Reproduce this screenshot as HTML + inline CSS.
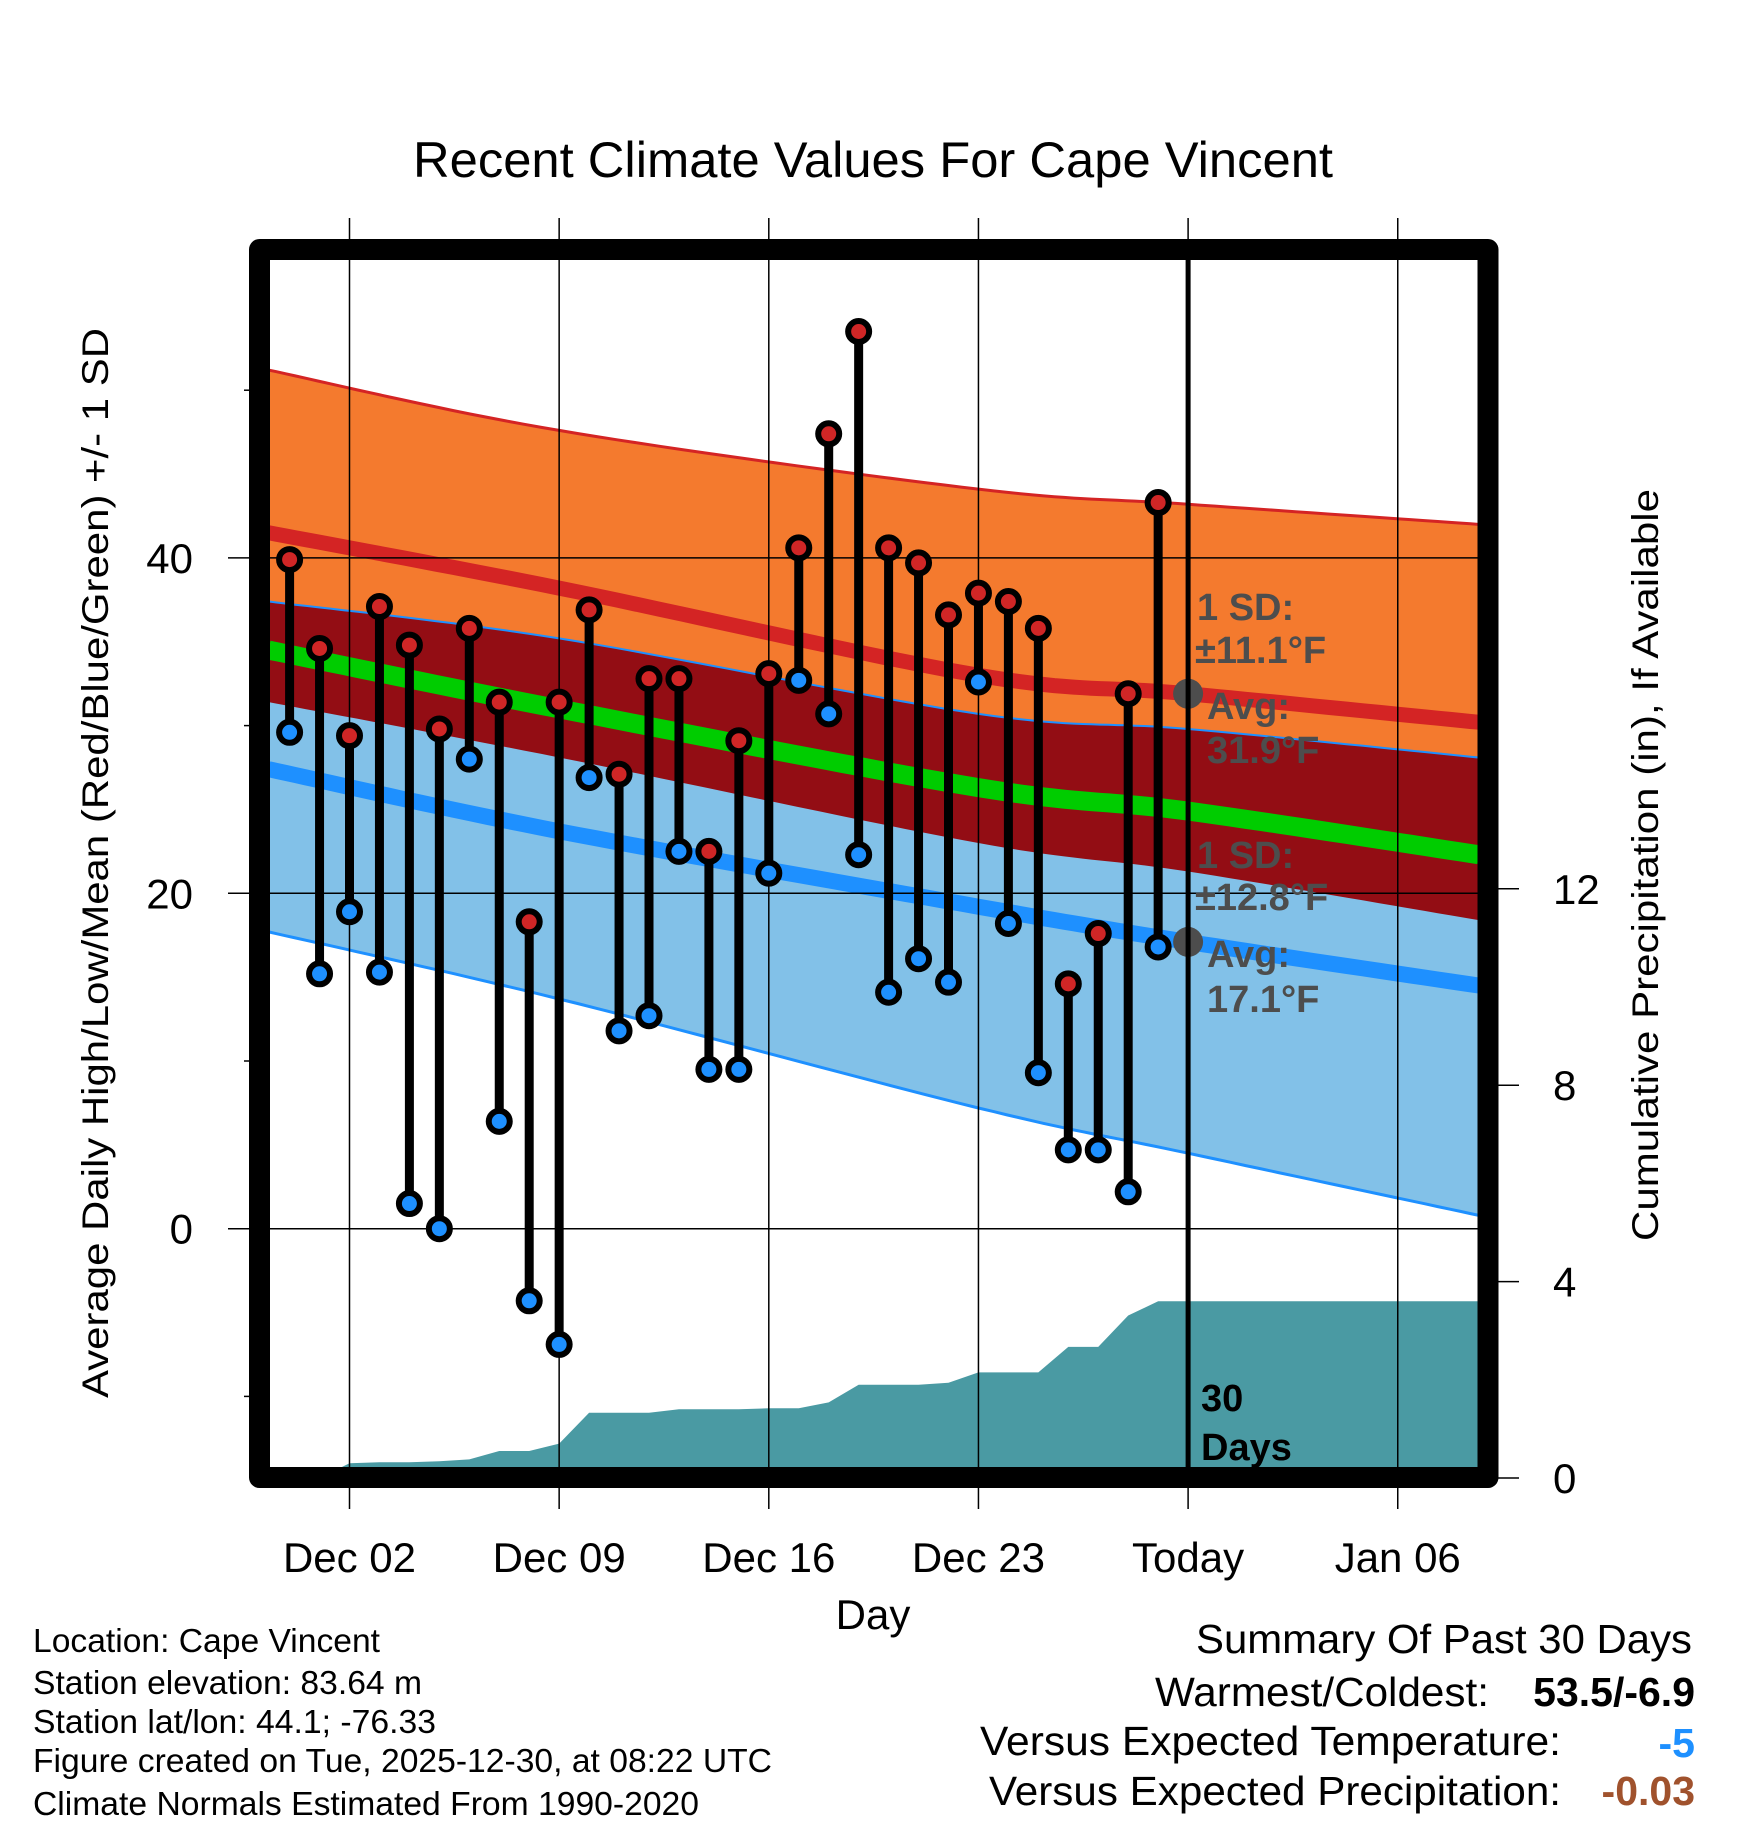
<!DOCTYPE html>
<html><head><meta charset="utf-8"><title>Recent Climate Values For Cape Vincent</title>
<style>html,body{margin:0;padding:0;background:#fff}svg{display:block}text{font-family:"Liberation Sans",Arial,sans-serif}</style>
</head><body>
<svg id="chart" xmlns="http://www.w3.org/2000/svg" width="1748" height="1828" viewBox="0 0 1748 1828">
<defs><clipPath id="plotclip"><rect x="270" y="260" width="1208" height="1208"/></clipPath></defs>
<text x="873" y="177" font-size="50" text-anchor="middle" textLength="920" lengthAdjust="spacingAndGlyphs">Recent Climate Values For Cape Vincent</text>
<g id="bands" clip-path="url(#plotclip)"></g>
<g id="precip" clip-path="url(#plotclip)"></g>
<g id="grid"></g>
<g id="marks"></g>
<g id="annot"></g>
<rect x="259.5" y="249.5" width="1228.5" height="1228" fill="none" stroke="#000" stroke-width="21" stroke-linejoin="round"/>
<g id="axes"></g>
<text transform="translate(108,863) rotate(-90)" font-size="37" text-anchor="middle" textLength="1070" lengthAdjust="spacingAndGlyphs">Average Daily High/Low/Mean (Red/Blue/Green) +/- 1 SD</text>
<text transform="translate(1658,865) rotate(-90)" font-size="37" text-anchor="middle" textLength="752" lengthAdjust="spacingAndGlyphs">Cumulative Precipitation (in), If Available</text>
<text x="873" y="1629" font-size="42" text-anchor="middle">Day</text>
<g font-size="33">
<text x="33" y="1652" textLength="347" lengthAdjust="spacingAndGlyphs">Location: Cape Vincent</text>
<text x="33" y="1694" textLength="389" lengthAdjust="spacingAndGlyphs">Station elevation: 83.64 m</text>
<text x="33" y="1733" textLength="403" lengthAdjust="spacingAndGlyphs">Station lat/lon: 44.1; -76.33</text>
<text x="33" y="1772" textLength="739" lengthAdjust="spacingAndGlyphs">Figure created on Tue, 2025-12-30, at 08:22 UTC</text>
<text x="33" y="1815" textLength="666" lengthAdjust="spacingAndGlyphs">Climate Normals Estimated From 1990-2020</text>
</g>
<g font-size="41">
<text x="1196" y="1653" textLength="496" lengthAdjust="spacingAndGlyphs">Summary Of Past 30 Days</text>
<text x="1155" y="1706" textLength="334" lengthAdjust="spacingAndGlyphs">Warmest/Coldest:</text>
<text x="1695" y="1706" text-anchor="end" font-weight="bold">53.5/-6.9</text>
<text x="980" y="1755" textLength="581" lengthAdjust="spacingAndGlyphs">Versus Expected Temperature:</text>
<text x="1695" y="1757" text-anchor="end" font-weight="bold" fill="#1e90ff">-5</text>
<text x="989" y="1805" textLength="572" lengthAdjust="spacingAndGlyphs">Versus Expected Precipitation:</text>
<text x="1695" y="1805" text-anchor="end" font-weight="bold" fill="#a0522d">-0.03</text>
</g>
</svg>
<script>
// ---- data ----
const days = [0,1,2,3,4,5,6,7,8,9,10,11,12,13,14,15,16,17,18,19,20,21,22,23,24,25,26,27,28,29]; // day of Dec (0 = Nov 30)
const highs = [39.9,34.6,29.4,37.1,34.8,29.8,35.8,31.4,18.3,31.4,36.9,27.1,32.8,32.8,22.5,29.1,33.1,40.6,47.4,53.5,40.6,39.7,36.6,37.9,37.4,35.8,14.6,17.6,31.9,43.3];
const lows = [29.6,15.2,18.9,15.3,1.5,0.0,28.0,6.4,-4.3,-6.9,26.9,11.8,12.7,22.5,9.5,9.5,21.2,32.7,30.7,22.3,14.1,16.1,14.7,32.6,18.2,9.3,4.7,4.7,2.2,16.8];
const precip = [0,0,0.3,0.32,0.32,0.34,0.38,0.55,0.55,0.7,1.33,1.33,1.33,1.4,1.4,1.4,1.42,1.42,1.54,1.9,1.9,1.9,1.94,2.15,2.15,2.15,2.67,2.67,3.31,3.6];
const normDays = [-0.7,9,23,30,39.7];
const highPlusSD = [51.2,47.6,44.1,43.2,42.0];
const highMean = [41.5,38.2,33.0,31.9,30.2];
const lowPlusSD = [37.4,35.2,30.7,29.8,28.1];
const meanTemp = [34.5,31.0,26.3,24.9,22.3];
const highMinusSD = [31.4,28.1,23.0,21.3,18.4];
const lowMean = [27.4,23.7,19.2,17.1,14.5];
const lowMinusSD = [17.7,13.7,7.2,4.5,0.8];
const xTickDays = [2,9,16,23,30,37];
const xTickLabels = ["Dec 02","Dec 09","Dec 16","Dec 23","Today","Jan 06"];
const yTicks = [0,20,40];
const yMinor = [-10,10,30,50];
const y2Ticks = [0,4,8,12];
const todayDay = 30;
const todayHighAvg = 31.9, todayLowAvg = 17.1;

// ---- scales ----
const X = d => 349.5 + (d - 2) * 29.95;
const Y = t => 1228.7 - t * 16.77;
const YP = p => 1478 - p * 49.1;
const NS = "http://www.w3.org/2000/svg";
function mk(tag, attrs, parent){const e=document.createElementNS(NS,tag);for(const k in attrs)e.setAttribute(k,attrs[k]);parent.appendChild(e);return e;}
// smooth curve through normals (monotone-ish Catmull-Rom sampled)
function curve(arr){
  const P = arr.map((v,i)=>[X(normDays[i]),Y(v)]);
  const out=[];
  for(let i=0;i<P.length-1;i++){
    const p0=P[Math.max(0,i-1)],p1=P[i],p2=P[i+1],p3=P[Math.min(P.length-1,i+2)];
    for(let s=0;s<20;s++){
      const t=s/20,t2=t*t,t3=t2*t;
      const f=(a,b,c,d)=>0.5*((2*b)+(-a+c)*t+(2*a-5*b+4*c-d)*t2+(-a+3*b-3*c+d)*t3);
      out.push(f(p0[0],p1[0],p2[0],p3[0]).toFixed(1)+","+f(p0[1],p1[1],p2[1],p3[1]).toFixed(1));
    }
  }
  out.push(P[P.length-1][0].toFixed(1)+","+P[P.length-1][1].toFixed(1));
  return out;
}
const bands = document.getElementById('bands');

let e;
e = mk('polygon',{points:curve(highPlusSD).concat(curve(highMinusSD).reverse()).join(' '),fill:'#f47a2e'},bands);
 
e = mk('polygon',{points:curve(lowPlusSD).concat(curve(lowMinusSD).reverse()).join(' '),fill:'#82c1e8'},bands);
 
e = mk('polygon',{points:curve(lowPlusSD).concat(curve(highMinusSD).reverse()).join(' '),fill:'#930d14'},bands);
 
function line(arr,color,w,name){const l=mk('polyline',{points:curve(arr).join(' '),fill:'none',stroke:color,'stroke-width':w},bands);}
line(highPlusSD,'#d42424',3,'high-plus-sd-line');
line(highMean,'#d42424',15,'high-mean-line');
line(lowPlusSD,'#1e90ff',2,'low-plus-sd-line');
line(meanTemp,'#00cc00',19,'mean-temp-line');
line(lowMean,'#1e90ff',16,'low-mean-line');
line(lowMinusSD,'#1e90ff',3,'low-minus-sd-line');

// precipitation
const pg = document.getElementById('precip');
let pp = [X(days[0])+","+YP(0)];
days.forEach((d,i)=>pp.push(X(d)+","+YP(precip[i])));
pp.push(X(todayDay)+","+YP(precip[precip.length-1]));
pp.push("1480,"+YP(precip[precip.length-1]));
pp.push("1480,1480");
pp.push(X(days[0])+",1480");
e = mk('polygon',{points:pp.join(' '),fill:'#4a9aa3'},pg);
 

// grid
const grid = document.getElementById('grid');
xTickDays.forEach(d=>{const l=mk('line',{x1:X(d),x2:X(d),y1:218,y2:1509,stroke:'#000','stroke-width':1.5},grid);});
yTicks.forEach(t=>{const l=mk('line',{x1:228,x2:1478,y1:Y(t),y2:Y(t),stroke:'#000','stroke-width':1.5},grid);});

// marks
const mg = document.getElementById('marks');
days.forEach((d,i)=>{
  const s=mk('line',{x1:X(d),x2:X(d),y1:Y(highs[i]),y2:Y(lows[i]),stroke:'#000','stroke-width':9},mg);
   
});
days.forEach((d,i)=>{
  const h=mk('circle',{cx:X(d),cy:Y(highs[i]),r:10.5,fill:'#d02626',stroke:'#000','stroke-width':6},mg);
   
  const l=mk('circle',{cx:X(d),cy:Y(lows[i]),r:10.5,fill:'#1e90ff',stroke:'#000','stroke-width':6},mg);
   
});

// annotations
const an = document.getElementById('annot');
e = mk('circle',{cx:X(todayDay),cy:Y(todayHighAvg),r:15,fill:'#4d4d4d'},an);
 
e = mk('circle',{cx:X(todayDay),cy:Y(todayLowAvg),r:15,fill:'#4d4d4d'},an);
 
e = mk('line',{x1:X(todayDay),x2:X(todayDay),y1:260,y2:1468,stroke:'#000','stroke-width':5},an);
 
const labels = [["1 SD:",1197,620],["±11.1°F",1195,663],["Avg:",1207,719],["31.9°F",1207,763],["1 SD:",1197,868],["±12.8°F",1195,910],["Avg:",1207,967],["17.1°F",1207,1012]];
labels.forEach(a=>{const t=mk('text',{x:a[1],y:a[2],'font-size':38,'font-weight':'bold',fill:'#4d4d4d'},an);t.textContent=a[0];});
e = mk('text',{x:1201,y:1411,'font-size':38,'font-weight':'bold'},an); e.textContent='30';
 
e = mk('text',{x:1201,y:1460,'font-size':38,'font-weight':'bold'},an); e.textContent='Days';
 

// axes
const ax = document.getElementById('axes');
xTickDays.forEach((d,i)=>{const t=mk('text',{x:X(d),y:1572,'font-size':42,'text-anchor':'middle'},ax);t.textContent=xTickLabels[i];});
yTicks.forEach(v=>{const t=mk('text',{x:193,y:Y(v)+15,'font-size':42,'text-anchor':'end'},ax);t.textContent=v;});
yMinor.forEach(v=>{const l=mk('line',{x1:244,x2:250,y1:Y(v),y2:Y(v),stroke:'#000','stroke-width':1.5},ax);});
y2Ticks.forEach(v=>{
  const l=mk('line',{x1:1498,x2:1519,y1:YP(v),y2:YP(v),stroke:'#000','stroke-width':1.5},ax);
  const t=mk('text',{x:1553,y:YP(v)+15,'font-size':42},ax);t.textContent=v;
});
</script>
</body></html>
